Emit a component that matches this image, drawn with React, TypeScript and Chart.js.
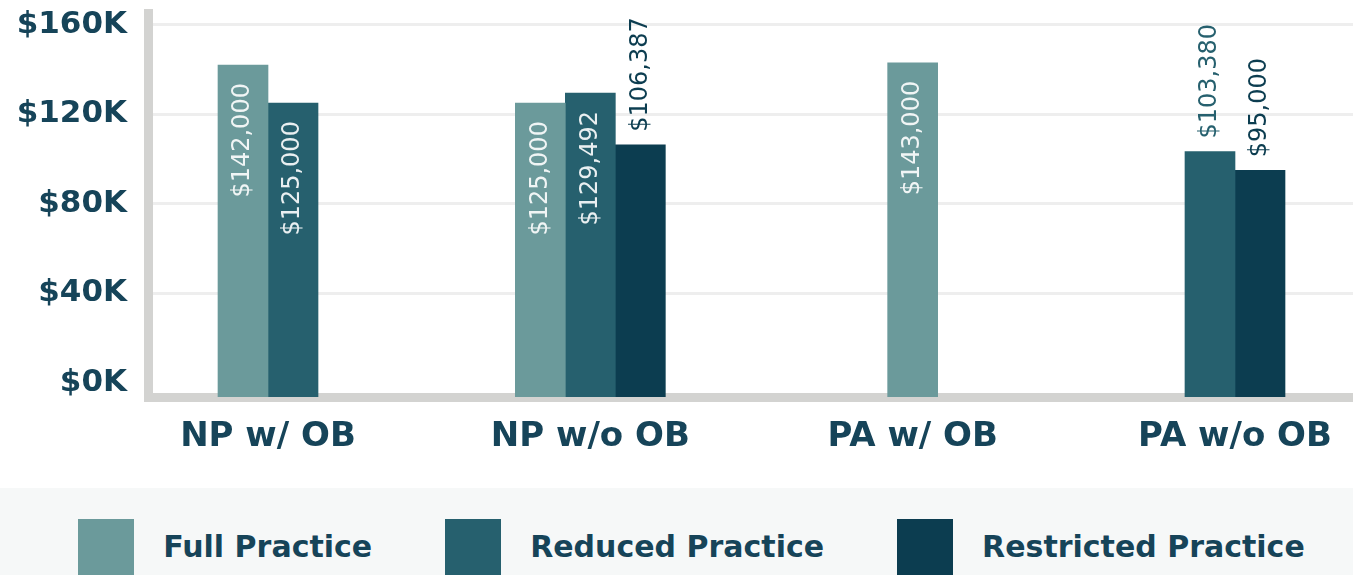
import React, { useEffect, useRef } from 'react';
import { Chart, registerables } from 'chart.js';

Chart.register(...registerables);

const categories = ['NP w/ OB', 'NP w/o OB', 'PA w/ OB', 'PA w/o OB'];
const fullPractice: (number | null)[] = [142000, 125000, 143000, null];
const reducedPractice: (number | null)[] = [125000, 129492, null, 103380];
const restrictedPractice: (number | null)[] = [null, 106387, null, 95000];
const seriesNames = ['Full Practice', 'Reduced Practice', 'Restricted Practice'];
const seriesColors = ['#6b9a9b', '#26606e', '#0c3d50'];
const yTickValues = [0, 40000, 80000, 120000, 160000];
const yTickLabels = ['$0K', '$40K', '$80K', '$120K', '$160K'];

const TEXT_COLOR = '#164459';
const AXIS_COLOR = '#d3d3d1';
const Y_MIN = -6350;
const Y_MAX = 165270;
const X_START = -0.3723;
const X_RANGE = 3.7384;
const INSIDE_MIN = 110000;

const valueLabels = {
  id: 'valueLabels',
  afterDatasetsDraw(chart: any) {
    const ctx = chart.ctx;
    chart.data.datasets.forEach((ds: any, di: number) => {
      const meta = chart.getDatasetMeta(di);
      meta.data.forEach((bar: any, i: number) => {
        const v = ds.data[i];
        if (v === null || v === undefined) return;
        const inside = v >= INSIDE_MIN;
        ctx.save();
        ctx.font = '24px "DejaVu Sans"';
        ctx.textBaseline = 'middle';
        ctx.translate(bar.x, inside ? bar.y + 18 : bar.y - 13);
        ctx.rotate(-Math.PI / 2);
        ctx.textAlign = inside ? 'right' : 'left';
        ctx.fillStyle = inside ? 'rgba(255,255,255,0.9)' : ds.backgroundColor;
        ctx.fillText('$' + v.toLocaleString('en-US'), 0, 0);
        ctx.restore();
      });
    });
  },
};

export default function App() {
  const canvasRef = useRef<HTMLCanvasElement | null>(null);

  useEffect(() => {
    const canvas = canvasRef.current;
    if (!canvas) return;
    const seriesData = [fullPractice, reducedPractice, restrictedPractice];
    const chart = new Chart(canvas, {
      type: 'bar',
      data: {
        labels: categories,
        datasets: seriesNames.map((name, i) => ({
          label: name,
          data: seriesData[i],
          backgroundColor: seriesColors[i],
          borderWidth: 0,
          barThickness: 50,
          skipNull: true,
          base: Y_MIN,
        })),
      },
      options: {
        animation: false,
        responsive: false,
        devicePixelRatio: 1,
        layout: { padding: { top: 13, left: 0, right: 0, bottom: 0 } },
        plugins: {
          legend: { display: false },
          tooltip: { enabled: false },
        },
        scales: {
          x: {
            z: 1,
            grid: { display: false, drawTicks: false },
            border: { display: true, width: 9, color: AXIS_COLOR },
            ticks: {
              color: TEXT_COLOR,
              font: { family: '"DejaVu Sans"', weight: 'bold', size: 34 },
              padding: 20,
              maxRotation: 0,
              autoSkip: false,
            },
            afterBuildTicks: (s: any) => {
              s._startValue = X_START;
              s._valueRange = X_RANGE;
            },
            afterFit: (s: any) => {
              s.height = 91;
              s.paddingLeft = 0;
              s.paddingRight = 0;
            },
          },
          y: {
            min: Y_MIN,
            max: Y_MAX,
            grid: {
              color: (c: any) => (c.tick && c.tick.value === 0 ? 'rgba(0,0,0,0)' : '#eeeeee'),
              lineWidth: 3,
              drawTicks: false,
            },
            border: { display: true, width: 9, color: AXIS_COLOR },
            ticks: {
              color: TEXT_COLOR,
              font: { family: '"DejaVu Sans"', weight: 'bold', size: 31 },
              padding: 21,
              callback: (value: any) => {
                const k = yTickValues.indexOf(Number(value));
                return k >= 0 ? yTickLabels[k] : '';
              },
            },
            afterBuildTicks: (s: any) => {
              s.ticks = yTickValues.map((v) => ({ value: v }));
            },
            afterFit: (s: any) => {
              s.width = 148;
              s.paddingTop = 0;
              s.paddingBottom = 0;
            },
          },
        },
      } as any,
      plugins: [valueLabels],
    });
    return () => chart.destroy();
  }, []);

  return (
    <div
      style={{
        position: 'fixed',
        left: 0,
        top: 0,
        width: 1353,
        height: 575,
        background: '#ffffff',
        overflow: 'hidden',
      }}
    >
      <canvas
        ref={canvasRef}
        width={1353}
        height={488}
        style={{ display: 'block', width: 1353, height: 488 }}
      />
      <div
        style={{
          height: 87,
          background: '#f6f8f8',
          boxSizing: 'border-box',
          paddingTop: 31,
          paddingLeft: 30,
          display: 'flex',
          justifyContent: 'center',
          alignItems: 'flex-start',
        }}
      >
        {seriesNames.map((name, i) => (
          <div
            key={name}
            style={{
              display: 'flex',
              alignItems: 'center',
              height: 56,
              marginLeft: i === 0 ? 0 : 73,
            }}
          >
            <div style={{ width: 56, height: 56, background: seriesColors[i], marginRight: 29 }} />
            <span
              style={{
                fontFamily: '"DejaVu Sans"',
                fontWeight: 'bold',
                fontSize: 30,
                color: TEXT_COLOR,
                lineHeight: '56px',
                whiteSpace: 'nowrap',
              }}
            >
              {name}
            </span>
          </div>
        ))}
      </div>
    </div>
  );
}
